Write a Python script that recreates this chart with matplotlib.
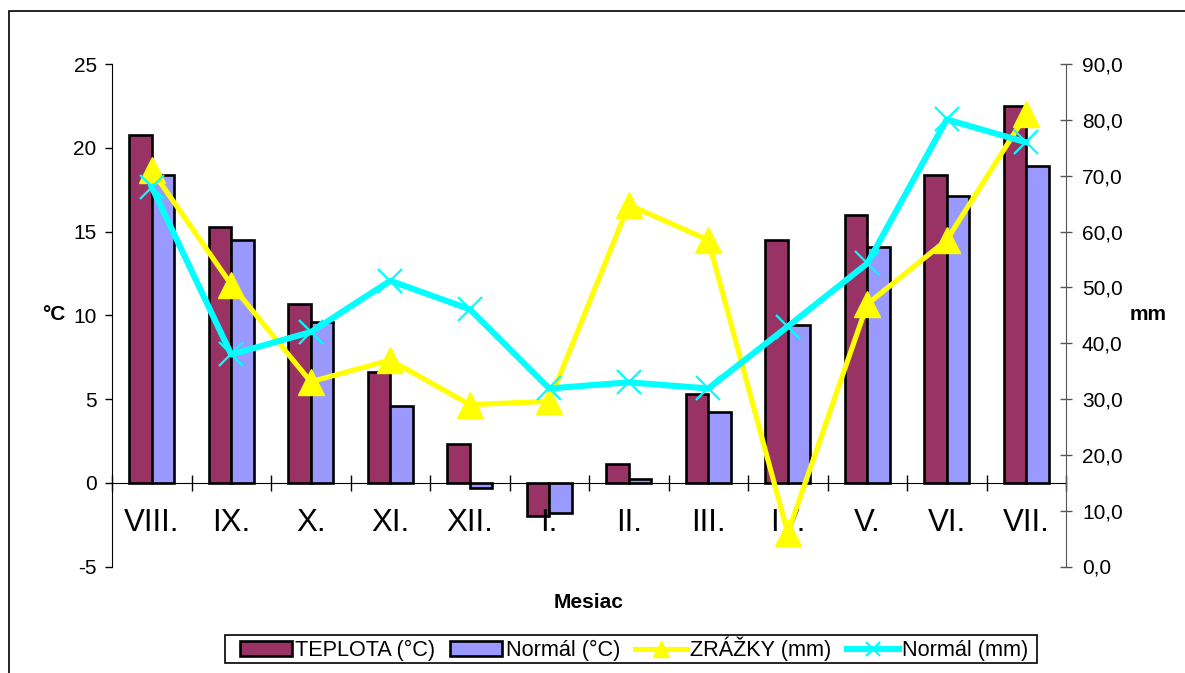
"""
Teplota a zrážky podľa mesiacov
"""

import numpy as np
import matplotlib
matplotlib.use('Agg')
import matplotlib.pyplot as plt
from matplotlib.patches import Rectangle

plt.rcParams['font.family'] = ['Liberation Sans', 'DejaVu Sans']
plt.rcParams['axes.unicode_minus'] = False

# údaje
mesiace = ['VIII.', 'IX.', 'X.', 'XI.', 'XII.', 'I.', 'II.', 'III.', 'IV.', 'V.', 'VI.', 'VII.']
teplota = [20.8, 15.3, 10.7, 6.6, 2.3, -2.0, 1.1, 5.3, 14.5, 16.0, 18.4, 22.5]
normal_t = [18.4, 14.5, 9.6, 4.6, -0.3, -1.8, 0.2, 4.2, 9.4, 14.1, 17.1, 18.9]
zrazky = [71.0, 50.5, 33.1, 37.0, 29.0, 29.6, 64.8, 58.5, 6.0, 47.0, 58.5, 81.0]
normal_z = [68.0, 38.0, 42.0, 51.2, 46.1, 31.9, 33.0, 31.9, 43.0, 54.3, 80.1, 76.0]

W, H = 1185, 673
fig = plt.figure(figsize=(W / 100, H / 100), dpi=100)

# rámček grafu
fig.patches.append(Rectangle((9 / W, -0.1), 2, 1.1 - 11 / H, transform=fig.transFigure,
                             fill=False, edgecolor='black', linewidth=1.2))

ax1 = fig.add_axes([112 / W, 1 - 566.5 / H, (1066 - 112) / W, (566.5 - 64.2) / H])
ax2 = ax1.twinx()

x = np.arange(len(mesiace))
w = 1 / 3.5

# stĺpce teploty
ax1.bar(x - w / 2, teplota, w, color='#993366', edgecolor='black', linewidth=1.9,
        label='TEPLOTA (°C)')
ax1.bar(x + w / 2, normal_t, w, color='#9999FF', edgecolor='black', linewidth=1.9,
        label='Normál (°C)')

# čiary zrážok
ax2.plot(x, zrazky, color='#FFFF00', linewidth=3.7, marker='^', markersize=19,
         label='ZRÁŽKY (mm)')
ax2.plot(x, normal_z, color='#00FFFF', linewidth=4.4, marker='x', markersize=17,
         markeredgewidth=1.6, label='Normál (mm)')

ax1.set_xlim(-0.5, 11.5)
ax1.set_ylim(-5, 25)
ax2.set_ylim(0, 90)

# osi
ax1.spines['top'].set_visible(False)
ax1.spines['right'].set_visible(False)
ax1.spines['bottom'].set_position(('data', 0))
for s in ['top', 'left', 'bottom']:
    ax2.spines[s].set_visible(False)
ax2.spines['right'].set_color('#555555')

ax1.set_xticks(x)
ax1.set_xticklabels(mesiace, fontsize=22.5)
ax1.set_xticks(np.arange(-0.5, 12, 1), minor=True)
ax1.tick_params(axis='x', which='major', length=0, pad=18)
ax1.tick_params(axis='x', which='minor', direction='inout', length=11, width=1)

ax1.set_yticks([-5, 0, 5, 10, 15, 20, 25])
ax1.tick_params(axis='y', direction='out', length=5, width=1, labelsize=15, pad=6)

ax2.set_yticks(np.arange(0, 91, 10))
ax2.set_yticklabels([f'{v:.1f}'.replace('.', ',') for v in np.arange(0, 91, 10)])
ax2.tick_params(axis='y', direction='inout', length=9, width=1, color='#555555',
                labelsize=15, pad=7)

# popisy osí
fig.text(54 / W, 1 - 315 / H, '°C', fontsize=15, fontweight='bold', ha='center', va='center')
fig.text(1148 / W, 1 - 315 / H, 'mm', fontsize=15, fontweight='bold', ha='center', va='center')
fig.text(589 / W, 1 - 603 / H, 'Mesiac', fontsize=15, fontweight='bold', ha='center', va='center')

# legenda
fig.patches.append(Rectangle((225 / W, 1 - 663 / H), (1037 - 225) / W, 28 / H,
                             transform=fig.transFigure, fill=False, edgecolor='black',
                             linewidth=1.2))
h1, l1 = ax1.get_legend_handles_labels()
h2, l2 = ax2.get_legend_handles_labels()
leg = fig.legend(h1 + h2, l1 + l2, loc='center', bbox_to_anchor=(634 / W, 1 - 649 / H),
                 ncol=4, fontsize=15.6, frameon=False, borderpad=0,
                 handlelength=2.4, handletextpad=0.15, columnspacing=0.7,
                 markerscale=0.6, borderaxespad=0)

fig.savefig('out.png', dpi=100)
